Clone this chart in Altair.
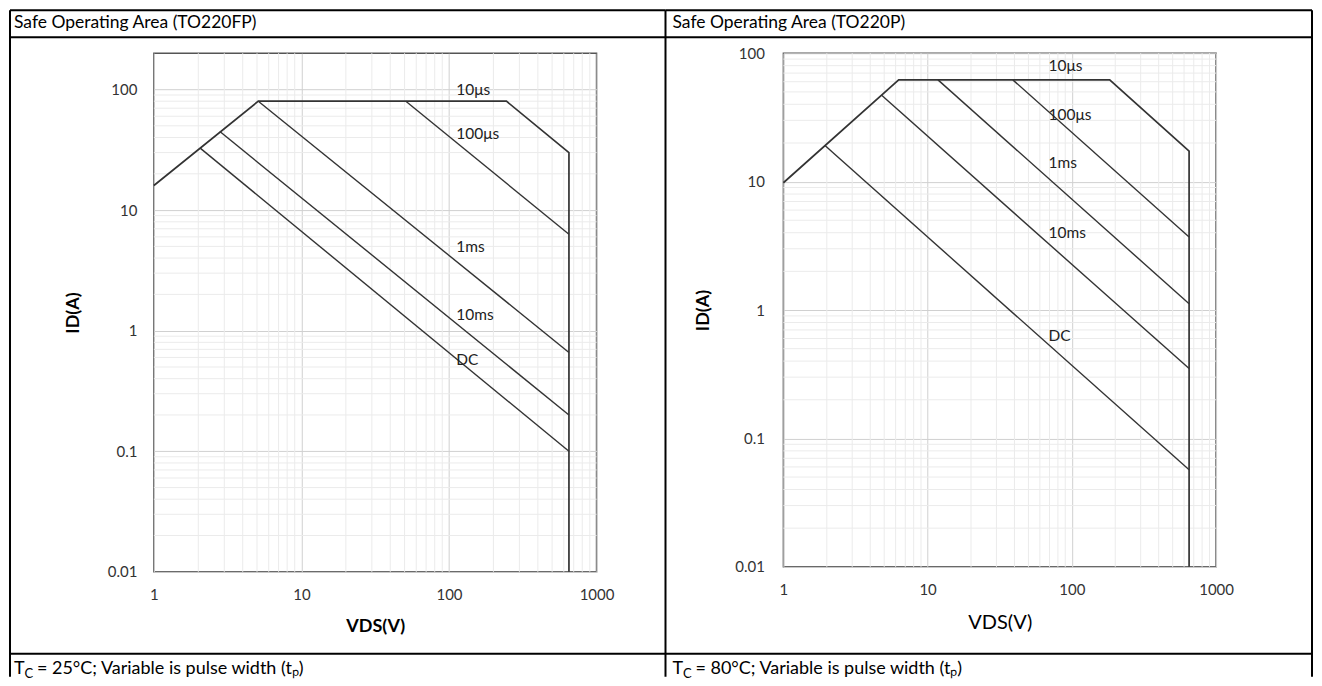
import altair as alt
import pandas as pd

# ---------------- data ----------------
# Left panel: TO220FP, Tc = 25 C
FP_ENV_V = [1, 5.1, 245, 650, 650]
FP_ENV_I = [16, 80, 80, 30, 0.01]
FP_100US_V = [51, 650]
FP_100US_I = [80, 6.3]
FP_1MS_V = [5.1, 650]
FP_1MS_I = [80, 0.66]
FP_10MS_V = [2.8, 650]
FP_10MS_I = [44.8, 0.2]
FP_DC_V = [2.05, 650]
FP_DC_I = [32.8, 0.1]
FP_LABELS = ["10μs", "100μs", "1ms", "10ms", "DC"]
FP_LABEL_V = [112, 112, 112, 112, 112]
FP_LABEL_I = [100, 42.5, 4.9, 1.36, 0.575]

# Right panel: TO220P, Tc = 80 C
P_ENV_V = [1, 6.3, 183, 650, 650]
P_ENV_I = [9.8, 62, 62, 17.3, 0.01]
P_100US_V = [39, 650]
P_100US_I = [62, 3.7]
P_1MS_V = [11.8, 650]
P_1MS_I = [62, 1.12]
P_10MS_V = [4.8, 650]
P_10MS_I = [47, 0.35]
P_DC_V = [1.95, 650]
P_DC_I = [19, 0.057]
P_LABELS = ["10μs", "100μs", "1ms", "10ms", "DC"]
P_LABEL_V = [69, 69, 69, 69, 69]
P_LABEL_I = [79, 33, 14, 4, 0.63]

X_TICKS = [1, 10, 100, 1000]
X_MINOR = [2, 3, 4, 5, 6, 7, 8, 9, 20, 30, 40, 50, 60, 70, 80, 90,
           200, 300, 400, 500, 600, 700, 800, 900]
Y_TICKS = [0.01, 0.1, 1, 10, 100]
Y_MINOR = [0.02, 0.03, 0.04, 0.05, 0.06, 0.07, 0.08, 0.09,
           0.2, 0.3, 0.4, 0.5, 0.6, 0.7, 0.8, 0.9,
           2, 3, 4, 5, 6, 7, 8, 9, 20, 30, 40, 50, 60, 70, 80, 90]

HEAD_L = "Safe Operating Area (TO220FP)"
HEAD_R = "Safe Operating Area (TO220P)"
FOOT_L = ["T", "C", "= 25°C; Variable is pulse width (tₚ)"]
FOOT_R = ["T", "C", "= 80°C; Variable is pulse width (tₚ)"]

# ---------------- styling ----------------
FONT = "Lato"
LINE = "#333333"
MAJOR = "#d0d0d0"
MINOR = "#ebebeb"
BORDER = "#000000"

one = pd.DataFrame({"d": [0]})


def curves_df(items):
    rows = []
    for name, vs, is_, sw in items:
        for k, (v, i) in enumerate(zip(vs, is_)):
            rows.append({"V": v, "I": i, "curve": name, "k": k, "sw": sw})
    return pd.DataFrame(rows)


def rule(x1, y1, x2, y2, ox, oy, w=2):
    enc = {"x": alt.value(x1 - ox), "y": alt.value(y1 - oy)}
    if x2 != x1:
        enc["x2"] = alt.value(x2 - ox)
    if y2 != y1:
        enc["y2"] = alt.value(y2 - oy)
    return alt.Chart(one).mark_rule(color=BORDER, strokeWidth=w).encode(**enc)


def txt(s, x, y, ox, oy, size=17):
    return alt.Chart(one).mark_text(
        align="left", baseline="alphabetic", font=FONT, fontSize=size, color="#000"
    ).encode(x=alt.value(x - ox), y=alt.value(y - oy), text=alt.value(s))


def footer(parts, x0, ox, oy):
    base = 673
    return [
        txt(parts[0], x0, base, ox, oy, 18),
        txt(parts[1], x0 + 10.5, base + 4, ox, oy, 13),
        txt(parts[2], x0 + 23, base, ox, oy, 18),
    ]


def panel(curves, lab_txt, lab_v, lab_i, ydom, w, h, ox, oy, deco,
          ylab_pad, xtitle_y, xtitle_w, xtitle_size, ytitle_w):
    xs = alt.Scale(type="log", domain=[1, 1000], nice=False)
    ys = alt.Scale(type="log", domain=ydom, nice=False)
    xaxis = alt.Axis(
        values=X_TICKS, format="~g", grid=True, gridColor=MAJOR, gridWidth=1,
        ticks=False, domain=False, labelPadding=16, labelFont=FONT,
        labelFontSize=15, labelColor="#333", labelFlush=False,
        title="VDS(V)", titleFont=FONT,
        titleFontSize=xtitle_size, titleFontWeight=xtitle_w, titleColor="#000",
        titleX=w / 2, titleY=xtitle_y, titleBaseline="alphabetic",
        titleAlign="center")
    yaxis = alt.Axis(
        values=[v for v in Y_TICKS if v <= ydom[1]], format="~g",
        grid=True, gridColor=MAJOR, gridWidth=1, ticks=False, domain=False,
        labelPadding=ylab_pad, labelFont=FONT, labelFontSize=15,
        labelColor="#333", labelFlush=False, title="ID(A)", titleFont=FONT,
        titleFontSize=18, titleFontWeight=ytitle_w, titleColor="#000",
        titleX=-80, titleY=h / 2, titleAngle=270, titleBaseline="middle",
        titleAlign="center")
    ymin = [v for v in Y_MINOR if v < ydom[1]]
    xminor = alt.Chart(pd.DataFrame({"V": X_MINOR})).mark_rule(
        color=MINOR, strokeWidth=1).encode(x=alt.X("V:Q", scale=xs, axis=xaxis))
    yminor = alt.Chart(pd.DataFrame({"I": ymin})).mark_rule(
        color=MINOR, strokeWidth=1).encode(y=alt.Y("I:Q", scale=ys, axis=yaxis))
    lines = alt.Chart(curves).mark_line(color=LINE).encode(
        x=alt.X("V:Q", scale=xs, axis=xaxis),
        y=alt.Y("I:Q", scale=ys, axis=yaxis),
        detail="curve:N",
        order="k:Q",
        strokeWidth=alt.StrokeWidth("sw:Q", scale=None),
    )
    labels = alt.Chart(pd.DataFrame({"V": lab_v, "I": lab_i, "t": lab_txt})).mark_text(
        align="left", baseline="middle", font=FONT, fontSize=15.5, color="#222"
    ).encode(x=alt.X("V:Q", scale=xs, axis=xaxis),
             y=alt.Y("I:Q", scale=ys, axis=yaxis), text="t:N")
    return alt.layer(xminor, yminor, lines, labels, *deco).properties(width=w, height=h)


# left panel origin (page px) and decorations
LOX, LOY = 153, 52
left_deco = [
    rule(9, 9, 665, 9, LOX, LOY),
    rule(9, 36, 665, 36, LOX, LOY),
    rule(9, 653, 665, 653, LOX, LOY),
    rule(9, 9, 9, 676, LOX, LOY),
    rule(665, 9, 665, 676, LOX, LOY),
    txt(HEAD_L, 13, 27, LOX, LOY, 17.5),
] + footer(FOOT_L, 13, LOX, LOY)

ROX, ROY = 783, 52
right_deco = [
    rule(665, 9, 1312, 9, ROX, ROY),
    rule(665, 36, 1312, 36, ROX, ROY),
    rule(665, 653, 1312, 653, ROX, ROY),
    rule(1312, 9, 1312, 676, ROX, ROY),
    txt(HEAD_R, 672, 27, ROX, ROY, 17.5),
] + footer(FOOT_R, 672, ROX, ROY)

fp_curves = curves_df([
    ("env", FP_ENV_V, FP_ENV_I, 1.7),
    ("100us", FP_100US_V, FP_100US_I, 1.4),
    ("1ms", FP_1MS_V, FP_1MS_I, 1.4),
    ("10ms", FP_10MS_V, FP_10MS_I, 1.4),
    ("dc", FP_DC_V, FP_DC_I, 1.4),
])
p_curves = curves_df([
    ("env", P_ENV_V, P_ENV_I, 1.7),
    ("100us", P_100US_V, P_100US_I, 1.4),
    ("1ms", P_1MS_V, P_1MS_I, 1.4),
    ("10ms", P_10MS_V, P_10MS_I, 1.4),
    ("dc", P_DC_V, P_DC_I, 1.4),
])

left = panel(fp_curves, FP_LABELS, FP_LABEL_V, FP_LABEL_I, [0.01, 200], 443, 519,
             LOX, LOY, left_deco, 17, 60, "bold", 18, "bold")
right = panel(p_curves, P_LABELS, P_LABEL_V, P_LABEL_I, [0.01, 100], 433, 514,
              ROX, ROY, right_deco, 19, 62, "normal", 20, "bold")

chart = alt.hconcat(left, right, spacing=187, bounds="flush").properties(
    padding=0
).configure_view(stroke="#555555", strokeWidth=1.5)

chart.save("out.html", embed_options={"renderer": "svg", "actions": False})
